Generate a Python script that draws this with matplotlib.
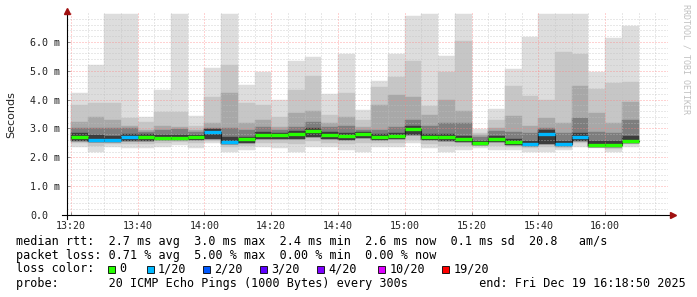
import numpy as np
import matplotlib.pyplot as plt
from matplotlib.patches import Rectangle

# 5 minute slots (start time of each smoke bar)
slots = ['13:20', '13:25', '13:30', '13:35', '13:40', '13:45', '13:50', '13:55',
         '14:00', '14:05', '14:10', '14:15', '14:20', '14:25', '14:30', '14:35',
         '14:40', '14:45', '14:50', '14:55', '15:00', '15:05', '15:10', '15:15',
         '15:20', '15:25', '15:30', '15:35', '15:40', '15:45', '15:50', '15:55',
         '16:00', '16:05']

# rtt values in ms
rtt_max = [4.22, 5.20, 6.95, 6.95, 3.41, 4.34, 6.95, 3.43, 5.09, 6.95, 4.51, 4.97,
           3.99, 5.32, 5.49, 4.20, 5.57, 3.64, 4.65, 5.57, 6.91, 6.95, 5.52, 6.95,
           2.97, 3.68, 5.06, 6.18, 6.95, 6.95, 6.95, 4.95, 6.15, 6.56]
rtt_up1 = [3.82, 3.87, 3.87, 3.35, 3.24, 3.58, 3.58, 3.10, 4.10, 5.20, 3.87, 3.82,
           3.40, 4.34, 4.80, 3.47, 4.22, 3.30, 4.45, 4.78, 5.34, 3.78, 4.94, 6.04,
           2.85, 3.30, 4.47, 4.13, 3.99, 5.66, 5.57, 4.36, 4.59, 4.62]
rtt_up2 = [3.24, 3.41, 3.30, 3.10, 2.95, 3.10, 3.05, 2.95, 3.18, 4.22, 3.20, 3.30,
           3.05, 3.53, 3.60, 3.20, 3.41, 3.05, 3.82, 4.16, 4.10, 3.47, 3.99, 3.60,
           2.78, 3.00, 3.43, 3.10, 3.35, 3.20, 4.47, 3.53, 3.20, 3.93]
rtt_up3 = [3.00, 3.00, 3.00, 3.00, 2.89, 2.95, 2.97, 2.89, 3.00, 3.00, 2.95, 3.06,
           2.95, 3.06, 3.24, 3.06, 3.10, 2.95, 2.95, 3.06, 3.30, 3.10, 3.20, 3.18,
           2.70, 2.90, 2.89, 2.83, 3.00, 2.83, 3.35, 2.89, 2.83, 3.30]
core_hi = [2.85, 2.78, 2.75, 2.82, 2.80, 2.78, 2.78, 2.78, 2.97, 2.70, 2.72, 2.88,
           2.85, 2.92, 3.00, 2.88, 2.84, 2.87, 2.80, 2.85, 3.10, 2.80, 2.80, 2.74,
           2.58, 2.75, 2.65, 2.58, 2.95, 2.58, 2.85, 2.55, 2.55, 2.75]
median = [2.70, 2.60, 2.60, 2.70, 2.70, 2.68, 2.68, 2.69, 2.87, 2.54, 2.62, 2.77,
          2.76, 2.81, 2.91, 2.77, 2.74, 2.79, 2.70, 2.75, 2.98, 2.70, 2.70, 2.62,
          2.49, 2.65, 2.52, 2.46, 2.79, 2.45, 2.70, 2.43, 2.43, 2.58]
core_lo = [2.58, 2.52, 2.52, 2.58, 2.58, 2.60, 2.60, 2.60, 2.62, 2.45, 2.50, 2.62,
           2.62, 2.62, 2.70, 2.62, 2.60, 2.66, 2.60, 2.62, 2.78, 2.60, 2.58, 2.52,
           2.42, 2.52, 2.42, 2.40, 2.45, 2.38, 2.58, 2.36, 2.36, 2.48]
rtt_lo1 = [2.48, 2.38, 2.45, 2.45, 2.45, 2.50, 2.52, 2.48, 2.55, 2.35, 2.40, 2.50,
           2.48, 2.45, 2.55, 2.50, 2.45, 2.50, 2.50, 2.50, 2.60, 2.45, 2.40, 2.40,
           2.38, 2.40, 2.35, 2.32, 2.35, 2.33, 2.48, 2.35, 2.30, 2.45]
rtt_min = [2.37, 2.20, 2.37, 2.31, 2.31, 2.37, 2.43, 2.31, 2.49, 2.20, 2.25, 2.37,
           2.31, 2.20, 2.37, 2.37, 2.25, 2.20, 2.37, 2.37, 2.49, 2.31, 2.20, 2.25,
           2.31, 2.25, 2.25, 2.20, 2.20, 2.25, 2.37, 2.31, 2.20, 2.37]
# lost pings out of 20 per slot
loss = [0, 1, 1, 1, 0, 0, 0, 0, 1, 1, 0, 0, 0, 0, 0, 0, 0, 0, 0, 0, 0, 0, 0, 0,
        0, 0, 0, 1, 1, 1, 1, 0, 0, 0]

loss_labels = ['0', '1/20', '2/20', '3/20', '4/20', '10/20', '19/20']
loss_steps = [0, 1, 2, 3, 4, 10, 19]
loss_colors = ['#26ff00', '#00b8ff', '#0059ff', '#5e00ff', '#7e00ff', '#dd00ff', '#ff0000']

time_ticks = ['13:20', '13:40', '14:00', '14:20', '14:40', '15:00', '15:20', '15:40', '16:00']

legend_lines = [
    'median rtt:  2.7 ms avg  3.0 ms max  2.4 ms min  2.6 ms now  0.1 ms sd  20.8   am/s',
    'packet loss: 0.71 % avg  5.00 % max  0.00 % min  0.00 % now',
    None,
    'probe:       20 ICMP Echo Pings (1000 Bytes) every 300s          end: Fri Dec 19 16:18:50 2025',
]


def to_min(s):
    h, m = s.split(':')
    return (int(h) - 13) * 60 + int(m) - 20


x = np.array([to_min(s) for s in slots], dtype=float)
W, H = 697, 297

fig = plt.figure(figsize=(W / 100, H / 100), dpi=100)
fig.patch.set_facecolor('white')
ax = fig.add_axes([67 / W, 82 / H, 601 / W, 202 / H])
ax.set_xlim(-70 / 60, 180 - 70 / 60)
ax.set_ylim(0, 7.0)

# smoke layers, outermost first
layers = [
    (rtt_min, rtt_max, '#dddddd'),
    (rtt_lo1, rtt_up1, '#c6c6c6'),
    (core_lo, rtt_up2, '#a8a8a8'),
    (core_lo, rtt_up3, '#7e7e7e'),
    (core_lo, core_hi, '#3c3c3c'),
]
for lo, hi, col in layers:
    lo = np.array(lo)
    hi = np.array(hi)
    ax.bar(x, hi - lo, bottom=lo, width=5, align='edge', color=col,
           edgecolor=col, linewidth=0.3, zorder=1)

# grid (rrdtool style dotted)
for m in np.arange(-5, 180, 5):
    major = m % 20 == 0
    ax.axvline(m, color='#ff8080' if major else '#c0c0c0', alpha=0.7,
               lw=0.72, dashes=(1, 2), zorder=1.5)
for v in np.arange(0.2, 7.0, 0.2):
    major = abs(v - round(v)) < 1e-6
    ax.axhline(v, color='#ff8080' if major else '#c0c0c0', alpha=0.7,
               lw=0.72, dashes=(1, 2), zorder=1.5)

# median line
xs = np.append(x, x[-1] + 5)
ys = np.append(median, median[-1])
ax.plot(xs, ys, drawstyle='steps-post', color='#202020', lw=0.8, zorder=3)
for xi, mi, li in zip(x, median, loss):
    ax.hlines(mi, xi, xi + 5, color=loss_colors[loss_steps.index(li)], lw=2.4, zorder=4)

# axes
for s in ax.spines.values():
    s.set_visible(False)
ax.plot([-0.009, 1.004], [0, 0], transform=ax.transAxes, color='black', lw=0.8,
        clip_on=False, zorder=5)
ax.plot([0, 0], [-0.02, 1.005], transform=ax.transAxes, color='black', lw=0.8,
        clip_on=False, zorder=5)
ax.plot([1.009], [0], marker='>', ms=4, color='#a01010', transform=ax.transAxes,
        clip_on=False, zorder=6)
ax.plot([0], [1.01], marker='^', ms=4, color='#a01010', transform=ax.transAxes,
        clip_on=False, zorder=6)

ax.set_xticks([to_min(t) for t in time_ticks])
ax.set_xticklabels(time_ticks)
ax.set_yticks(range(7))
ax.set_yticklabels(['0.0'] + ['%d.0 m' % v for v in range(1, 7)])
ax.tick_params(axis='both', direction='in', length=2, width=0.6, color='#808080',
               labelsize=7.2, labelcolor='#222222')
ax.tick_params(axis='x', pad=4)
ax.tick_params(axis='y', pad=26.6)
for lab in ax.get_xticklabels() + ax.get_yticklabels():
    lab.set_family('DejaVu Sans Mono')
for lab in ax.get_yticklabels():
    lab.set_horizontalalignment('left')

fig.text(11 / W, 1 - 115 / H, 'Seconds', rotation=90, ha='center', va='center',
         fontsize=8, color='#222222', family='DejaVu Sans')
fig.text(686 / W, 1 - 4 / H, 'RRDTOOL / TOBI OETIKER', rotation=270, ha='center',
         va='top', fontsize=6, color='#c0c0c0', family='DejaVu Sans Mono')

# legend text
line_y = [241, 255, 269, 283]
for txt, yy in zip(legend_lines, line_y):
    if txt is None:
        continue
    fig.text(16 / W, 1 - yy / H, txt, ha='left', va='center', fontsize=8.5,
             family='DejaVu Sans Mono', color='black')
fig.text(16 / W, 1 - line_y[2] / H, 'loss color:', ha='left', va='center',
         fontsize=8.5, family='DejaVu Sans Mono', color='black')
sq_x = [108, 146.7, 203.3, 260, 316.7, 378.3, 442.3]
for sx, lab, col in zip(sq_x, loss_labels, loss_colors):
    fig.patches.append(Rectangle((sx / W, 1 - (line_y[2] + 3.5) / H), 7 / W, 7 / H,
                                 transform=fig.transFigure, facecolor=col,
                                 edgecolor='black', linewidth=0.6))
    fig.text((sx + 11.3) / W, 1 - line_y[2] / H, lab, ha='left', va='center',
             fontsize=8.5, family='DejaVu Sans Mono', color='black')

fig.savefig('out.png', dpi=100, facecolor='white')
